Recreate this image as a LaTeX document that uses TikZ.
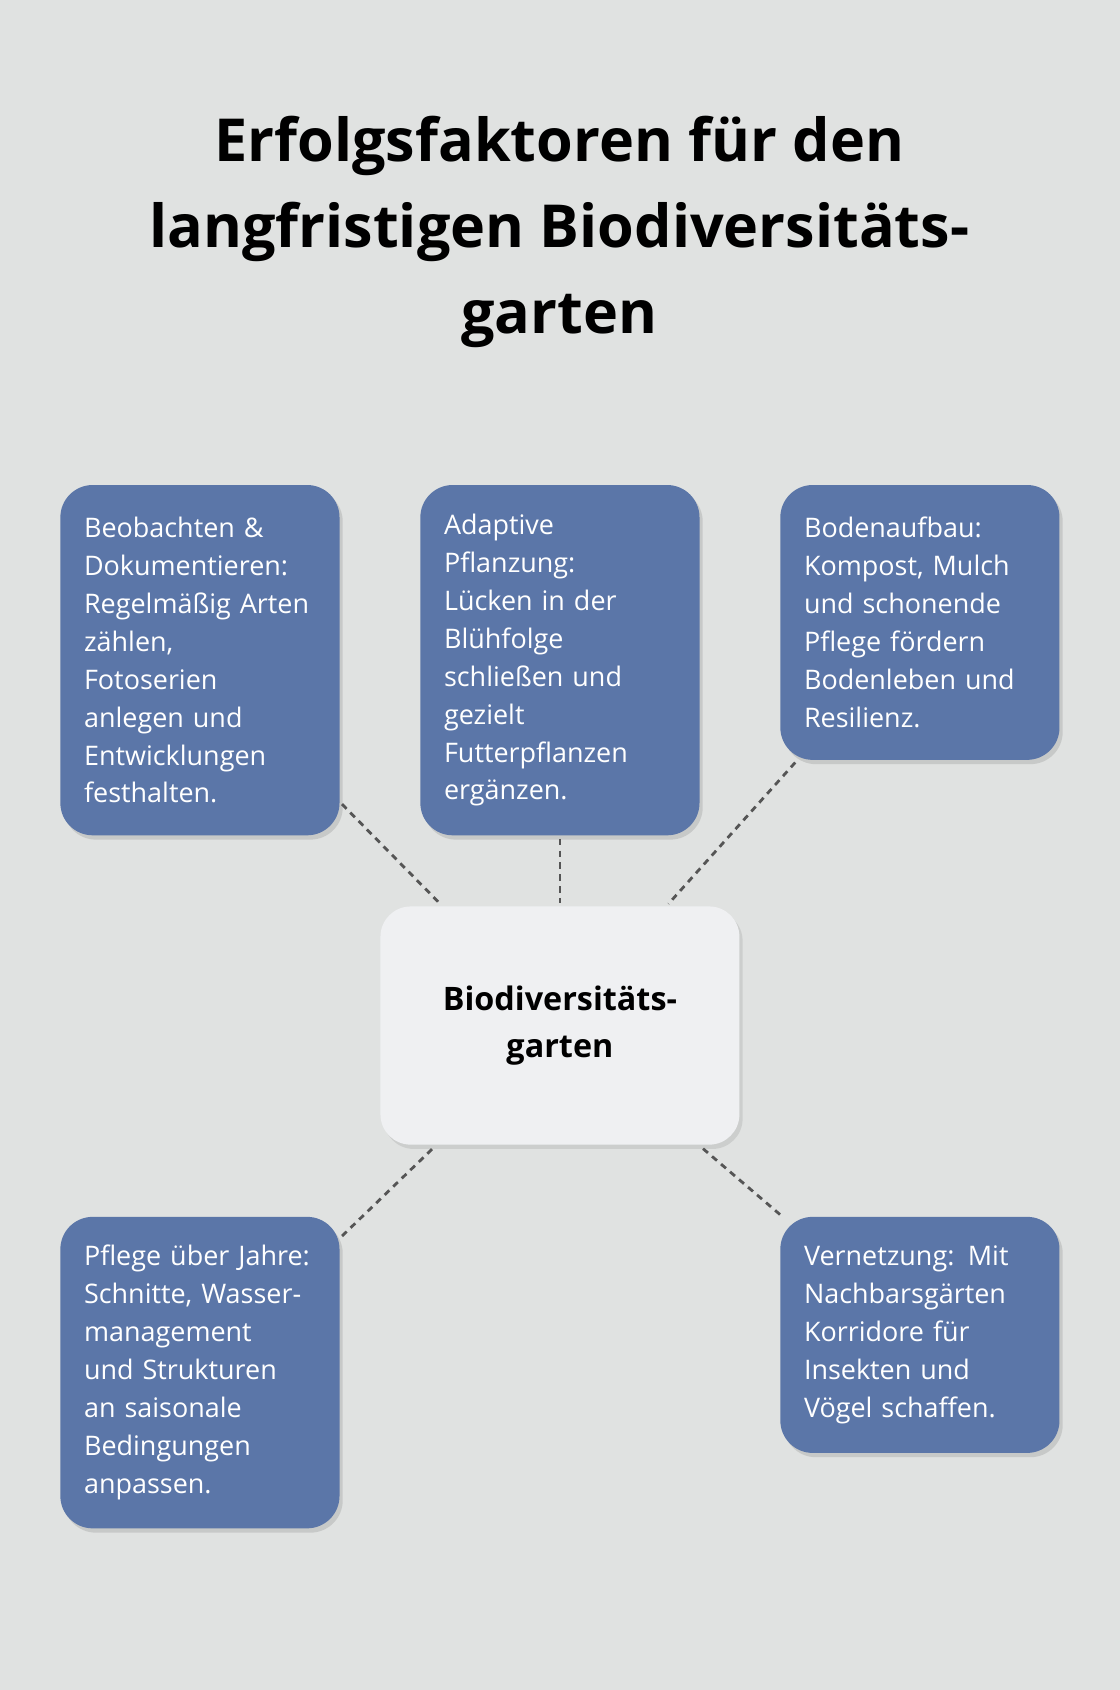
\documentclass[tikz,border=0pt]{standalone}
\usepackage{fontspec}
\setmainfont{Open Sans}
\usetikzlibrary{shadows}
\definecolor{bg}{HTML}{E0E2E1}
\definecolor{boxc}{HTML}{5B76A8}
\definecolor{cen}{HTML}{EFF0F2}
\definecolor{ln}{HTML}{555555}
\begin{document}
\begin{tikzpicture}[x=1pt,y=-1pt,
 box/.style={fill=boxc,rounded corners=30pt,text=white,align=left,text width=215pt,inner sep=22pt,
   font=\fontsize{25}{35.2}\selectfont,drop shadow={shadow xshift=3pt,shadow yshift=-4pt,opacity=0.25}},
 con/.style={draw=ln,line width=2.6pt,dash pattern=on 6pt off 5pt,shorten <=3pt,shorten >=3pt}]
\fill[bg] (0,0) rectangle (1039,1568);
\useasboundingbox (0,0) rectangle (1039,1568);
\node[font=\fontsize{55}{80}\bfseries\selectfont,align=center] (t) at (519,215)
 {Erfolgsfaktoren für den\\langfristigen Biodiversitäts-\\garten};
\node[box,minimum height=325pt] (b1) at (185.5,612.5) {Beobachten \&\\Dokumentieren:\\Regelmäßig Arten\\zählen,\\Fotoserien\\anlegen und\\Entwicklungen\\festhalten.};
\node[box,minimum height=325pt] (b2) at (519.5,612.5) {Adaptive\\Pflanzung:\\Lücken in der\\Blühfolge\\schließen und\\gezielt\\Futterpflanzen\\ergänzen.};
\node[box,minimum height=255pt] (b3) at (853.5,577.5) {Bodenaufbau:\\Kompost, Mulch\\und schonende\\Pflege fördern\\Bodenleben und\\Resilienz.};
\node[box,minimum height=289pt] (b4) at (185.5,1273.5) {Pflege über Jahre:\\Schnitte, Wasser-\\management\\und Strukturen\\an saisonale\\Bedingungen\\anpassen.};
\node[box,minimum height=219pt] (b5) at (853.5,1238.5) {Vernetzung: Mit\\Nachbarsgärten\\Korridore für\\Insekten und\\Vögel schaffen.};
\node[fill=cen,rounded corners=28pt,minimum width=333pt,minimum height=221pt,align=center,
 font=\fontsize{30}{44}\bfseries\selectfont,drop shadow={shadow xshift=3pt,shadow yshift=-4pt,opacity=0.2}] (c) at (519.5,951.5) {Biodiversitäts-\\garten};
\draw[con] (b1) -- (c);
\draw[con] (b2) -- (c);
\draw[con] (b3) -- (c);
\draw[con] (b4) -- (c);
\draw[con] (b5) -- (c);
\end{tikzpicture}
\end{document}
